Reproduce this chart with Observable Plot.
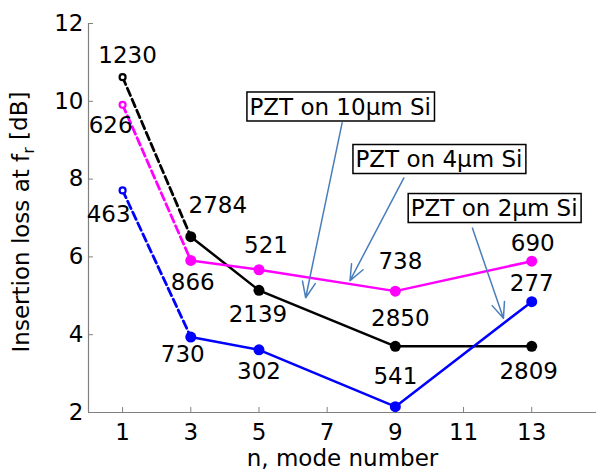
<!DOCTYPE html>
<html><head><meta charset="utf-8">
<script src="https://cdn.jsdelivr.net/npm/d3@7"></script>
<script src="https://cdn.jsdelivr.net/npm/@observablehq/plot@0.6"></script>
<style>body{margin:0;background:#fff;}</style>
</head><body><div id="chart"></div>
<script>
// ---- data ----
const modes = [1, 3, 5, 9, 13];
const loss10um = [10.62, 6.52, 5.14, 3.70, 3.70];
const loss4um  = [9.91, 5.91, 5.67, 5.12, 5.89];
const loss2um  = [7.71, 3.94, 3.61, 2.15, 4.85];
const freq10um = ["1230", "2784", "2139", "2850", "2809"];
const freq4um  = ["626", "866", "521", "738", "690"];
const freq2um  = ["463", "730", "302", "541", "277"];
const xTicks = [1, 3, 5, 7, 9, 11, 13];
const yTicks = [2, 4, 6, 8, 10, 12];
const annotTexts = ["PZT on 10\u03bcm Si", "PZT on 4\u03bcm Si", "PZT on 2\u03bcm Si"];
const annotX = [4.72, 7.83, 9.45];
const annotY = [9.85, 8.50, 7.24];
const arrowX1 = [7.44, 9.25, 11.26];
const arrowY1 = [9.45, 8.03, 6.74];
const arrowX2 = [6.37, 7.67, 12.17];
const arrowY2 = [4.95, 5.39, 4.42];
const xLabel = "n, mode number";
const yLabel = "Insertion loss at f";

// ---- label placement (pixel offsets, styling only) ----
const off10um = [[5,-22],[27,-31],[-1,24],[5,-28],[-3,25]];
const off4um  = [[-12,21],[2,22],[7,-24],[5,-30],[1,-18]];
const off2um  = [[-14,24],[-8,18],[0,22],[0,-30],[0,-18]];

const series = [
  {color: "#000000", loss: loss10um, freq: freq10um, off: off10um},
  {color: "#ff00ff", loss: loss4um,  freq: freq4um,  off: off4um},
  {color: "#0000ff", loss: loss2um,  freq: freq2um,  off: off2um}
];

const FONT = 23;
const gray = "#808080";
const marks = [];

// axes
marks.push(Plot.ruleY([2], {stroke: gray, strokeWidth: 1.2}));
marks.push(Plot.ruleX([0], {y1: 2, y2: 12, stroke: gray, strokeWidth: 1.2}));
marks.push(Plot.ruleX(xTicks, {x: d => d, y1: 2, y2: 2 + 5/38.9, stroke: gray}));
marks.push(Plot.ruleY(yTicks, {y: d => d, x1: 0, x2: 5/34.08, stroke: gray}));
marks.push(Plot.axisX({ticks: xTicks, tickSize: 0, tickPadding: 11, label: null, fontSize: FONT, fill: "black"}));
marks.push(Plot.axisY({ticks: yTicks, tickSize: 0, tickPadding: 5, label: null, fontSize: FONT, fill: "black"}));

// series
for (const s of series) {
  const rows = modes.map((m, i) => ({x: m, y: s.loss[i], i}));
  marks.push(Plot.line(rows.filter(d => d.i <= 1), {x: "x", y: "y", stroke: s.color, strokeWidth: 2.8, strokeDasharray: "8,4"}));
  marks.push(Plot.line(rows.filter(d => d.i >= 1), {x: "x", y: "y", stroke: s.color, strokeWidth: 2.5}));
  marks.push(Plot.dot(rows.filter(d => d.i === 0), {x: "x", y: "y", r: 3, stroke: s.color, strokeWidth: 2.2, fill: "white"}));
  marks.push(Plot.dot(rows.filter(d => d.i >= 1), {x: "x", y: "y", r: 5.5, fill: s.color}));
}

// arrows
const arrows = arrowX1.map((x1, i) => ({x1, y1: arrowY1[i], x2: arrowX2[i], y2: arrowY2[i]}));
marks.push(Plot.arrow(arrows, {x1: "x1", y1: "y1", x2: "x2", y2: "y2", stroke: "#4a7ebb", strokeWidth: 1.5, headLength: 17, headAngle: 45, bend: 0}));

// value labels
for (const s of series) {
  modes.forEach((m, i) => {
    marks.push(Plot.text([{x: m, y: s.loss[i], t: s.freq[i]}], {x: "x", y: "y", text: "t", dx: s.off[i][0], dy: s.off[i][1], fontSize: FONT, fill: "black", textAnchor: "middle", lineAnchor: "middle"}));
  });
}

// annotation boxes text
const annots = annotTexts.map((t, i) => ({t, x: annotX[i], y: annotY[i]}));
marks.push(Plot.text(annots, {x: "x", y: "y", text: "t", textAnchor: "start", lineAnchor: "middle", fontSize: FONT, fill: "black", ariaDescription: "annot"}));

// axis labels
marks.push(Plot.text([xLabel], {frameAnchor: "bottom", dy: 46, fontSize: FONT, fill: "black", textAnchor: "middle", lineAnchor: "middle"}));
marks.push(Plot.text([yLabel], {frameAnchor: "left", dx: -67, dy: 4, rotate: -90, fontSize: FONT, fill: "black", textAnchor: "middle", lineAnchor: "middle", ariaDescription: "ylabel"}));

const chart = Plot.plot({
  width: 596, height: 472,
  marginLeft: 88, marginRight: 0, marginTop: 23, marginBottom: 60,
  x: {domain: [0, 14.9]},
  y: {domain: [2, 12]},
  style: {fontFamily: "DejaVu Sans", fontSize: FONT + "px", background: "white", color: "black"},
  marks
});
document.getElementById("chart").appendChild(chart);

const ns = "http://www.w3.org/2000/svg";
// y label subscript
let yl = chart.querySelector('g[aria-description="ylabel"] text');
if (!yl) yl = Array.from(chart.querySelectorAll("text")).find(t => t.textContent === yLabel);
if (yl) {
  yl.textContent = "";
  const t1 = document.createElementNS(ns, "tspan"); t1.textContent = yLabel;
  const t2 = document.createElementNS(ns, "tspan"); t2.textContent = "r"; t2.setAttribute("dy", "0.3em"); t2.setAttribute("font-size", "70%");
  const t3 = document.createElementNS(ns, "tspan"); t3.textContent = " [dB]"; t3.setAttribute("dy", "-0.3em");
  yl.append(t1, t2, t3);
  yl.setAttribute("text-anchor", "middle");
}
// boxes around annotations
let annotEls = Array.from(chart.querySelectorAll('g[aria-description="annot"] text'));
if (!annotEls.length) annotEls = Array.from(chart.querySelectorAll("text")).filter(t => annotTexts.includes(t.textContent));
annotEls.forEach(t => {
  const b = t.getBBox();
  const r = document.createElementNS(ns, "rect");
  r.setAttribute("x", b.x - 2.5);
  r.setAttribute("y", b.y - 1.5);
  r.setAttribute("width", b.width + 6);
  r.setAttribute("height", b.height + 3);
  r.setAttribute("fill", "white");
  r.setAttribute("stroke", "black");
  r.setAttribute("stroke-width", "1.5");
  if (t.getAttribute("transform")) r.setAttribute("transform", t.getAttribute("transform"));
  t.parentNode.insertBefore(r, t);
});
</script>
</body></html>
